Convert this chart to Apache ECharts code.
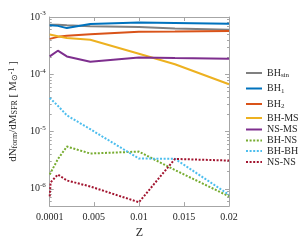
<!DOCTYPE html>
<html><head><meta charset="utf-8">
<script src="https://cdn.jsdelivr.net/npm/echarts@6/dist/echarts.min.js"></script>
<style>html,body{margin:0;padding:0;background:#fff}#c{width:299px;height:244px}</style>
</head><body><div id="c"></div>
<script>
// Metallicity grid
const Z = [0.0001, 0.001, 0.002, 0.0046, 0.01, 0.014, 0.02];
const zNsNs = [0.0001, 0.0002, 0.001, 0.002, 0.0046, 0.01, 0.014, 0.02];
// Series values (dN_form/dM_SFR)
const bhSin = [7.35e-4, 7.3e-4, 7.15e-4, 6.9e-4, 6.7e-4, 6.3e-4, 6.0e-4];
const bh1   = [7.15e-4, 7.0e-4, 6.4e-4, 7.55e-4, 8.0e-4, 7.85e-4, 7.65e-4];
const bh2   = [4.15e-4, 4.5e-4, 4.7e-4, 5.0e-4, 5.55e-4, 5.6e-4, 5.7e-4];
const bhMs  = [4.95e-4, 4.6e-4, 4.3e-4, 4.0e-4, 2.28e-4, 1.5e-4, 6.7e-5];
const nsMs  = [2.05e-4, 2.58e-4, 2.05e-4, 1.65e-4, 1.97e-4, 1.92e-4, 1.87e-4];
const bhNs  = [1.78e-6, 3.3e-6, 5.47e-6, 4.14e-6, 4.47e-6, 2.13e-6, 7.4e-7];
const bhBh  = [3.87e-5, 2.82e-5, 1.92e-5, 1.10e-5, 3.38e-6, 3.35e-6, 7.9e-7];
const nsNs  = [7.4e-7, 1.3e-6, 1.78e-6, 1.40e-6, 1.1e-6, 5.84e-7, 3.33e-6, 3.12e-6];
// Tick labels
const xTicks = [0.0001, 0.005, 0.01, 0.015, 0.02];
const yTicks = [1e-6, 1e-5, 1e-4, 1e-3];
const yMinorTicks = [];
for (let e = -7; e <= -4; e++) for (let m = 2; m <= 9; m++) { const v = m * Math.pow(10, e); if (v >= 5e-7 && v < 1e-3) yMinorTicks.push(v); }

const FONT = 'Liberation Serif';
const seriesDefs = [
  {name:'BHsin', label:'BH{s|sin}', data:bhSin, z:Z, color:'#808080', type:'solid'},
  {name:'BH1', label:'BH{s|1}', data:bh1, z:Z, color:'#0072BD', type:'solid'},
  {name:'BH2', label:'BH{s|2}', data:bh2, z:Z, color:'#D95319', type:'solid'},
  {name:'BH-MS', label:'BH-MS', data:bhMs, z:Z, color:'#EDB120', type:'solid'},
  {name:'NS-MS', label:'NS-MS', data:nsMs, z:Z, color:'#7E2F8E', type:'solid'},
  {name:'BH-NS', label:'BH-NS', data:bhNs, z:Z, color:'#77AC30', type:[2,1.6]},
  {name:'BH-BH', label:'BH-BH', data:bhBh, z:Z, color:'#4DBEEE', type:[2,1.6]},
  {name:'NS-NS', label:'NS-NS', data:nsNs, z:zNsNs, color:'#A2142F', type:[2,1.6]}
];
const legendCenters = [72, 87.5, 103, 117, 128.5, 139.5, 150, 161];
const labelMap = {}; seriesDefs.forEach(s => labelMap[s.name] = s.label);

const axisLineStyle = {color:'#a6a6a6', width:1};
const textColor = '#262626';

const chart = echarts.init(document.getElementById('c'), null, {renderer:'canvas'});
const yBase = {type:'log', min:5e-7, max:1e-3, logBase:10, splitLine:{show:false}, minorTick:{show:false}};
chart.setOption({
  animation:false,
  backgroundColor:'#fff',
  grid:{left:41, right:70, top:17, bottom:29, containLabel:false},
  xAxis:[
    {type:'value', min:0.0001, max:0.02, position:'bottom',
     axisLine:{lineStyle:axisLineStyle}, splitLine:{show:false},
     axisTick:{inside:true, length:4, lineStyle:axisLineStyle, customValues:xTicks},
     axisLabel:{customValues:xTicks, formatter:v=>String(v), color:textColor, fontFamily:FONT, fontSize:10, margin:6},
     name:'Z', nameLocation:'middle', nameGap:15, nameTextStyle:{color:textColor, fontFamily:FONT, fontSize:12}},
    {type:'value', min:0.0001, max:0.02, position:'top',
     axisLine:{lineStyle:axisLineStyle}, splitLine:{show:false},
     axisTick:{inside:true, length:4, lineStyle:axisLineStyle, customValues:xTicks},
     axisLabel:{show:false}}
  ],
  yAxis:[
    Object.assign({}, yBase, {position:'left',
     axisLine:{show:true, lineStyle:axisLineStyle},
     axisTick:{show:true, inside:true, length:4, lineStyle:axisLineStyle, customValues:yTicks},
     axisLabel:{customValues:yTicks, margin:4, color:textColor, fontFamily:FONT, fontSize:10,
       formatter:v=>'{b|10}{p|' + Math.round(Math.log10(v)) + '}',
       rich:{b:{fontFamily:FONT, fontSize:10, color:textColor, lineHeight:14}, p:{fontFamily:FONT, fontSize:7, color:textColor, verticalAlign:'top', lineHeight:6}}},
     name:'dN{s|form}/dM{s|SFR} [ M{s|⊙}{p|-1} ]', nameLocation:'middle', nameGap:23,
     nameTextStyle:{color:textColor, fontFamily:FONT, fontSize:11,
       rich:{s:{fontFamily:FONT, fontSize:8, color:textColor, verticalAlign:'bottom', lineHeight:7},
             p:{fontFamily:FONT, fontSize:8, color:textColor, verticalAlign:'top', lineHeight:7}}}}),
    Object.assign({}, yBase, {position:'left',
     axisLine:{show:false},
     axisTick:{show:true, inside:true, length:2, lineStyle:axisLineStyle, customValues:yMinorTicks},
     axisLabel:{show:false}}),
    Object.assign({}, yBase, {position:'right',
     axisLine:{show:true, lineStyle:axisLineStyle},
     axisTick:{show:true, inside:true, length:4, lineStyle:axisLineStyle, customValues:yTicks},
     axisLabel:{show:false}}),
    Object.assign({}, yBase, {position:'right',
     axisLine:{show:false},
     axisTick:{show:true, inside:true, length:2, lineStyle:axisLineStyle, customValues:yMinorTicks},
     axisLabel:{show:false}})
  ],
  legend: seriesDefs.map((s, i) => ({
    data:[s.name], left:245, top:legendCenters[i] - 5, itemWidth:16, itemHeight:10, padding:0,
    selectedMode:false,
    itemStyle:{opacity:0, borderWidth:0},
    formatter:n=>labelMap[n],
    textStyle:{color:textColor, fontFamily:FONT, fontSize:10, lineHeight:12,
      rich:{s:{fontFamily:FONT, fontSize:7, color:textColor, verticalAlign:'bottom', lineHeight:5}}}
  })),
  series: seriesDefs.map(s => ({
    name:s.name, type:'line', xAxisIndex:0, yAxisIndex:0, symbol:'none', smooth:false,
    data:s.data.map((v, i) => [s.z[i], v]),
    lineStyle:{color:s.color, width:2, type:s.type, cap:'butt'},
    itemStyle:{color:s.color},
    emphasis:{disabled:true}
  }))
});
</script></body></html>
